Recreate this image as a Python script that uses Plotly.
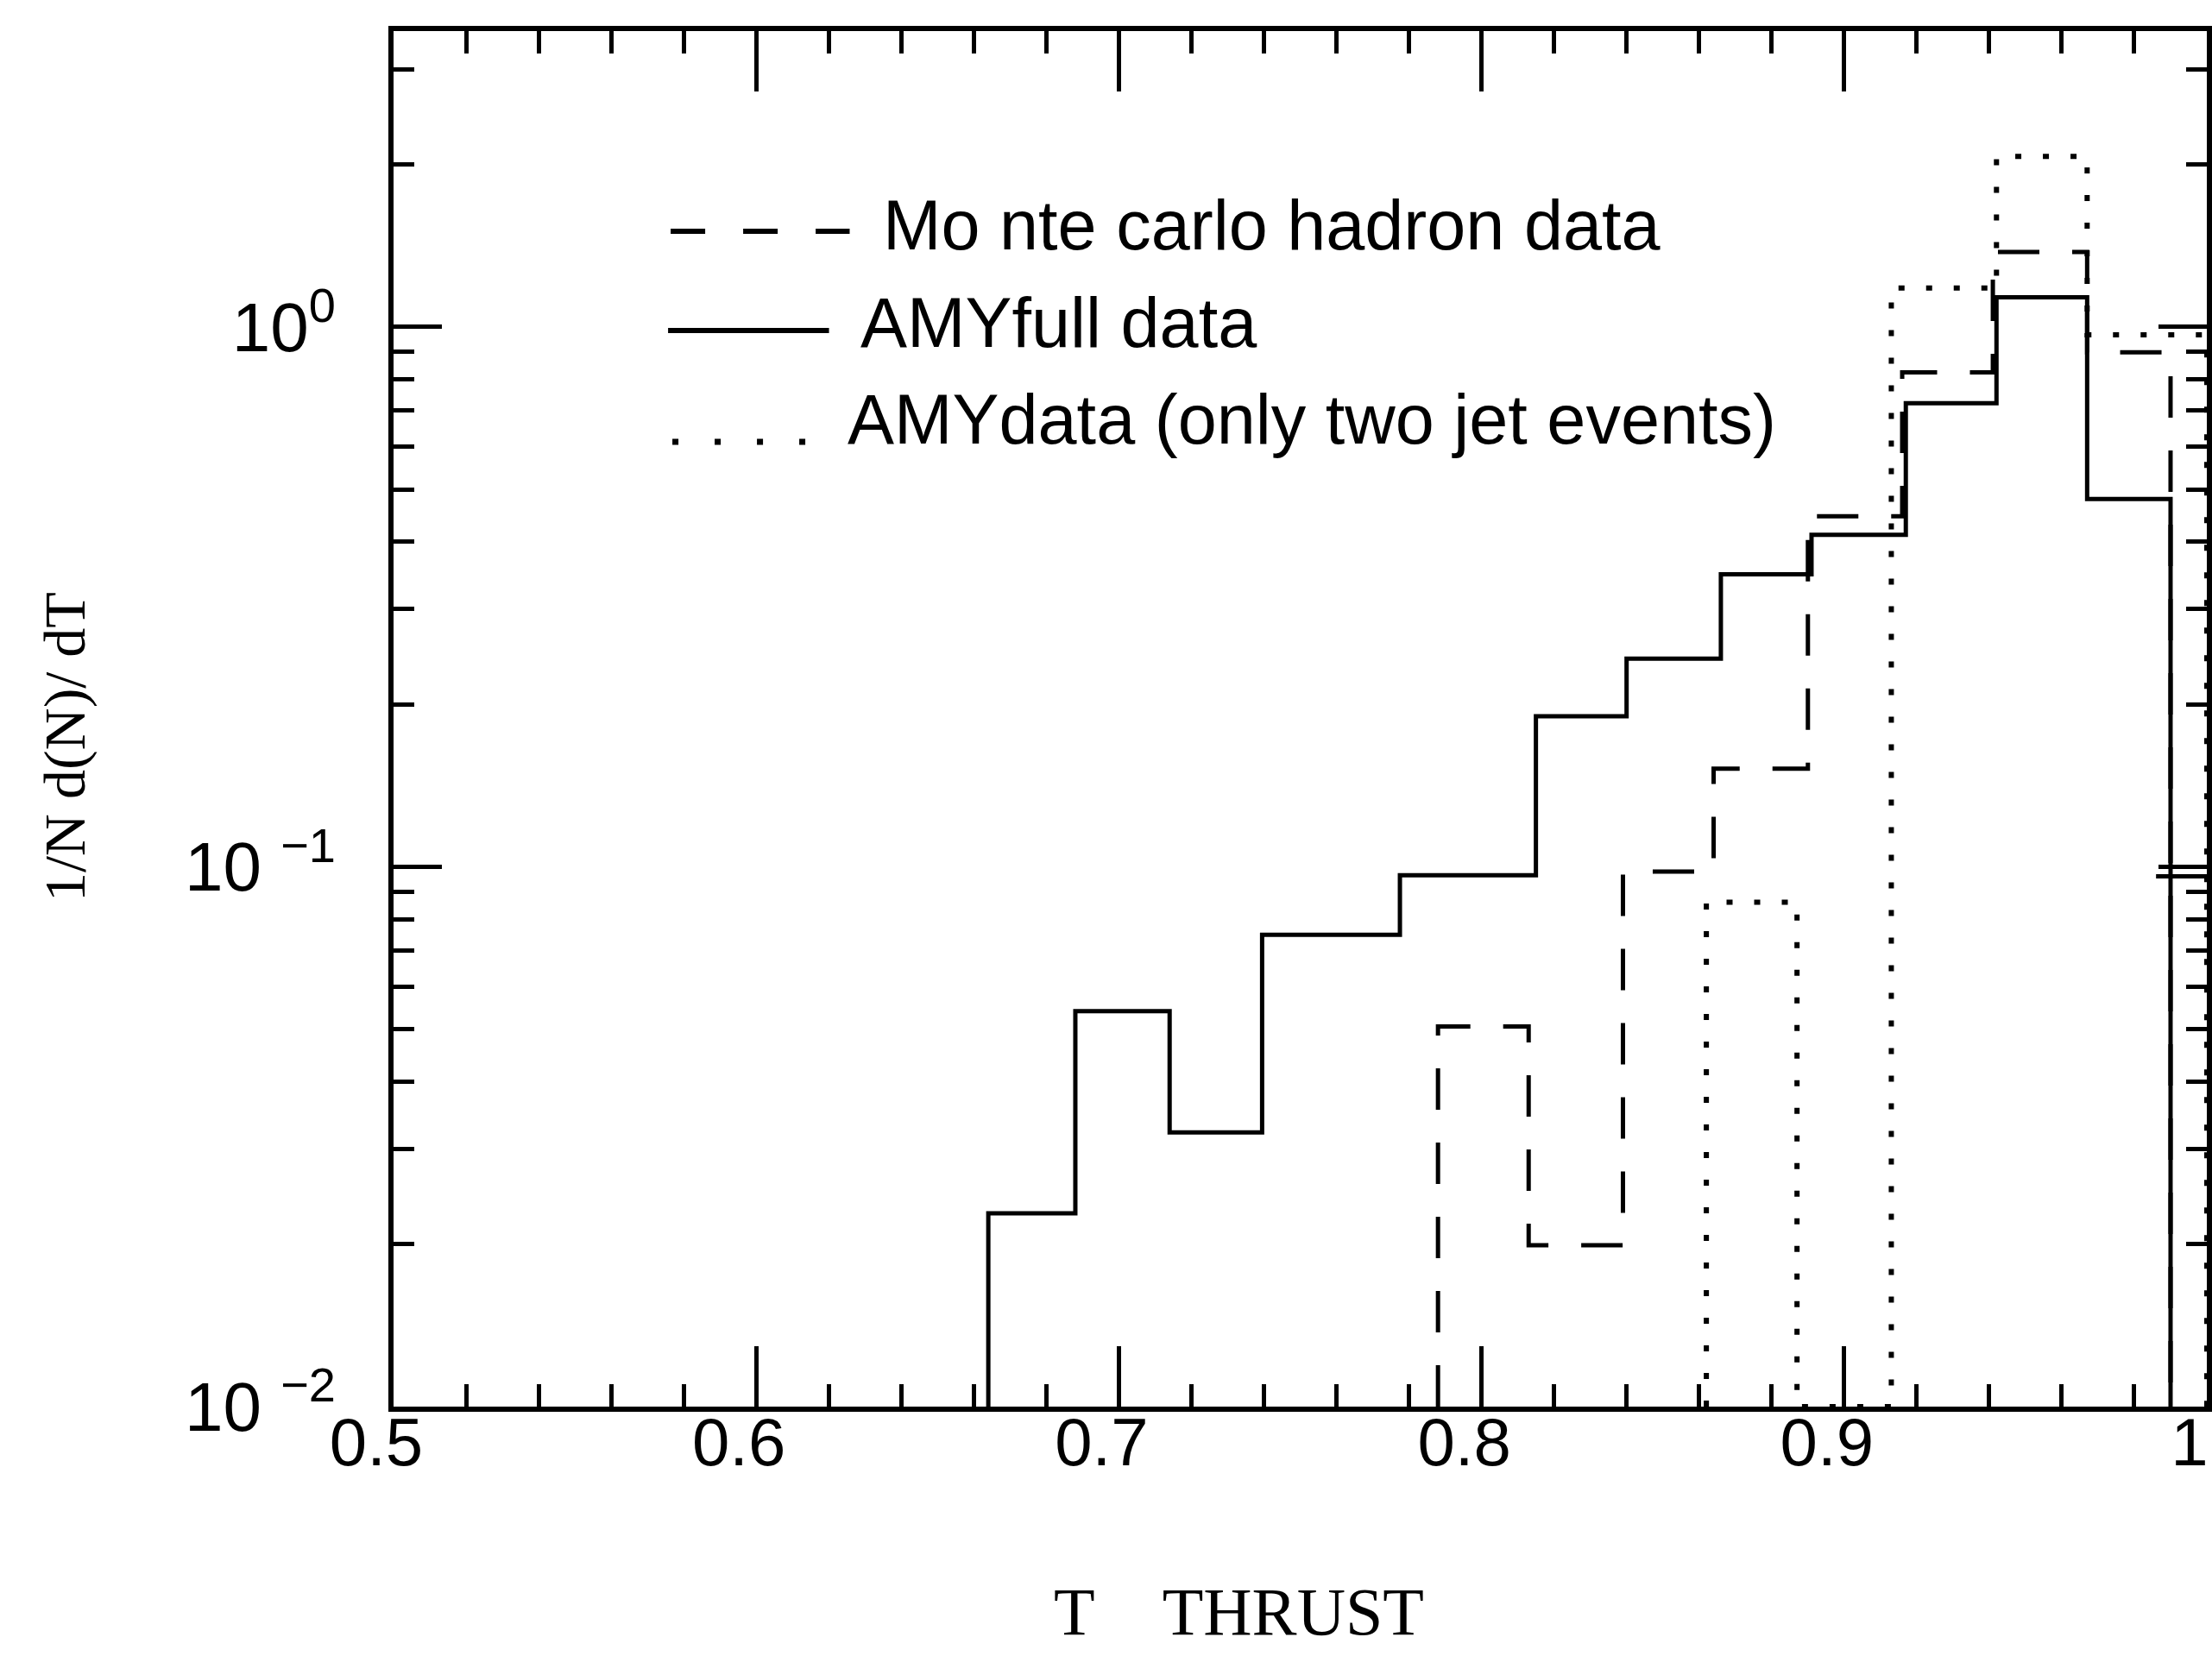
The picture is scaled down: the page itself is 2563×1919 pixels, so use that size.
import plotly.graph_objects as go

# ---------------- data ----------------
Y_FLOOR = 0.01  # bottom of the log axis (10^-2)

# AMY full data (solid histogram)
full_edges = [0.664, 0.688, 0.714, 0.7395, 0.7775, 0.815, 0.840, 0.866,
              0.891, 0.917, 0.942, 0.967, 0.990]
full_values = [0.0228, 0.054, 0.0322, 0.0748, 0.0964, 0.190, 0.243, 0.348,
               0.412, 0.722, 1.135, 0.48]
full_last_edges = [0.986, 1.0]
full_last_value = 0.096

# Monte carlo hadron data (dashed histogram)
mc_edges = [0.788, 0.813, 0.839, 0.864, 0.890, 0.916, 0.941, 0.967, 0.990]
mc_values = [0.0506, 0.0199, 0.098, 0.152, 0.446, 0.824, 1.377, 0.897]

# AMY data, only two jet events (dotted histogram)
twojet_edges = [0.862, 0.887, 0.913, 0.942, 0.967, 1.0]
twojet_values = [0.086, 0.0, 1.18, 2.07, 0.967]

x_tick_vals = [0.5, 0.6, 0.7, 0.8, 0.9, 1.0]
x_tick_text = ["0.5", "0.6", "0.7", "0.8", "0.9", "1"]
y_tick_vals = [0.01, 0.1, 1.0]
y_tick_text = ["10 <sup>\u22122</sup>", "10 <sup>\u22121</sup>", "10<sup>0</sup>"]
y_minor_vals = [m * 10.0 ** k for k in (-2, -1, 0) for m in range(2, 10)]

legend_labels = ["Mo nte carlo hadron data", "AMYfull data",
                 "AMYdata (only two jet events)"]


def step_xy(edges, values, floor):
    xs = [edges[0]] + list(edges)
    ys = [floor] + [max(v, floor) for v in values] + [floor]
    return xs, ys


fig = go.Figure()

LW = 5
x, y = step_xy(full_edges, full_values, Y_FLOOR)
fig.add_trace(go.Scatter(x=x, y=y, mode="lines", line_shape="hv",
                         line=dict(color="black", width=LW),
                         name=legend_labels[1]))
fig.add_trace(go.Scatter(x=full_last_edges,
                         y=[full_last_value] * len(full_last_edges),
                         mode="lines", line=dict(color="black", width=LW),
                         showlegend=False))

x, y = step_xy(mc_edges, mc_values, Y_FLOOR)
fig.add_trace(go.Scatter(x=x, y=y, mode="lines", line_shape="hv",
                         line=dict(color="black", width=LW, dash="48px,38px"),
                         name=legend_labels[0]))

x, y = step_xy(twojet_edges, twojet_values, Y_FLOOR)
fig.add_trace(go.Scatter(x=x, y=y, mode="lines", line_shape="hv",
                         line=dict(color="black", width=6, dash="7px,25px"),
                         name=legend_labels[2]))

# ---------------- layout ----------------
L, R, T, B = 456, 0, 36, 289
W, H = 2563, 1919
PW, PH = W - L - R, H - T - B


def px(xp):
    return (xp - L) / PW


def py(yp):
    return (H - B - yp) / PH


axis_common = dict(
    showline=True, linecolor="black", linewidth=6, mirror="ticks",
    ticks="inside", tickcolor="black", tickwidth=5,
    showgrid=False, zeroline=False,
)

fig.update_layout(
    width=W, height=H,
    margin=dict(l=L, r=R, t=T, b=B, pad=0),
    paper_bgcolor="white", plot_bgcolor="white",
    showlegend=False,
    xaxis=dict(
        range=[0.5, 1.0], tickmode="array",
        tickvals=x_tick_vals, ticktext=x_tick_text, ticklen=70,
        tickfont=dict(family="Liberation Sans Narrow, Arial Narrow, sans-serif",
                      size=78, color="black"),
        ticklabelshift=-20, ticklabelstandoff=-32,
        minor=dict(ticks="inside", ticklen=26, tickwidth=5, tickcolor="black",
                   tick0=0.5, dtick=0.02, showgrid=False),
        **axis_common,
    ),
    yaxis=dict(
        type="log", range=[-2, 0.548], tickmode="array",
        tickvals=y_tick_vals, ticktext=y_tick_text, ticklen=56,
        tickfont=dict(family="Liberation Sans Narrow, Arial Narrow, sans-serif",
                      size=80, color="black"),
        ticklabelstandoff=45,
        minor=dict(ticks="inside", ticklen=24, tickwidth=5, tickcolor="black",
                   tickmode="array", tickvals=y_minor_vals, showgrid=False),
        **axis_common,
    ),
)

# axis titles
fig.add_annotation(text="T\u00a0\u00a0\u00a0\u00a0THRUST", xref="paper", yref="paper",
                   x=px(1438), y=py(1868), showarrow=False,
                   xanchor="center", yanchor="middle",
                   font=dict(family="Liberation Serif, Times New Roman, serif",
                             size=78, color="black"))
fig.add_annotation(text="1/N d(N)/ dT", xref="paper", yref="paper",
                   x=px(74), y=py(866), showarrow=False, textangle=-90,
                   xanchor="center", yanchor="middle",
                   font=dict(family="Liberation Serif, Times New Roman, serif",
                             size=68, color="black"))

# hand-drawn style legend inside the frame
legend_font = dict(family="Liberation Sans, Arial, sans-serif", size=81, color="black")
legend_rows = [
    # (label, text_left_px, text_center_y_px, sample_x0, sample_x1, sample_y, dash, width)
    (legend_labels[0], 1023, 261, 778, 986, 268, "40px,44px", 6),
    (legend_labels[1], 997, 374, 775, 962, 383, "solid", 6),
    (legend_labels[2], 981, 486, 780, 936, 512, "7px,42px", 7),
]
for label, tx, ty, sx0, sx1, sy, dash, lw in legend_rows:
    fig.add_annotation(text=label, xref="paper", yref="paper",
                       x=px(tx), y=py(ty), showarrow=False,
                       xanchor="left", yanchor="middle", font=legend_font)
    fig.add_shape(type="line", xref="paper", yref="paper",
                  x0=px(sx0), x1=px(sx1), y0=py(sy), y1=py(sy),
                  line=dict(color="black", width=lw, dash=dash))

fig.write_html("out.html")
